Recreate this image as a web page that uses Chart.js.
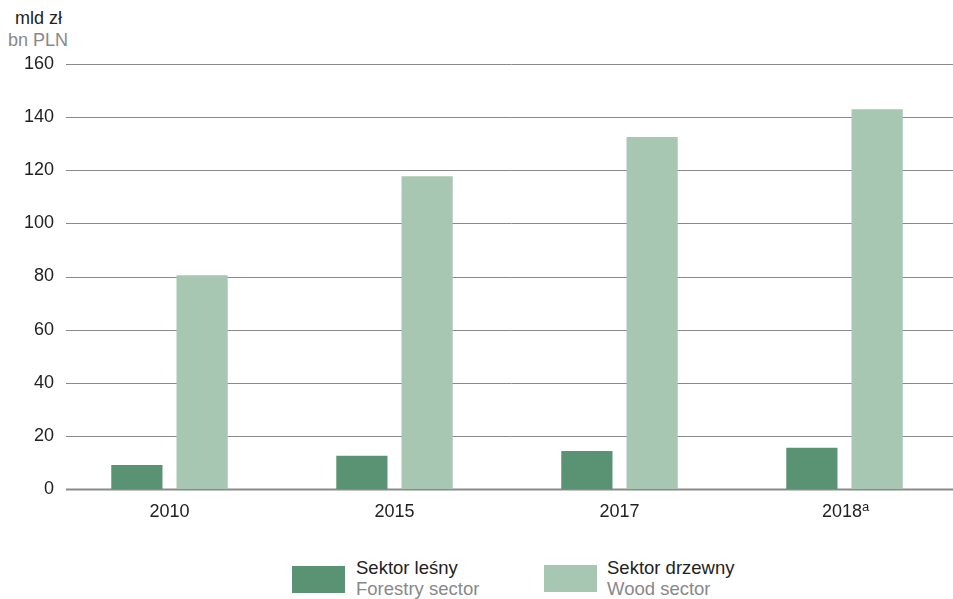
<!DOCTYPE html>
<html>
<head>
<meta charset="utf-8">
<script src="https://cdn.jsdelivr.net/npm/chart.js@4"></script>
<style>
  body { margin: 0; background: #fff; font-family: 'Liberation Sans', Arial, sans-serif; }
  #wrap { position: relative; width: 953px; height: 599px; overflow: hidden; }
  #box { position: absolute; left: 0; top: 0; width: 957px; height: 535px; }
  .unit { position: absolute; font-size: 18px; }
  .leg { position: absolute; top: 557px; font-size: 18.5px; line-height: 21px; }
  .sw { position: absolute; width: 53px; height: 27px; }
  .pl { color: #222; }
  .en { color: #888; }
</style>
</head>
<body>
<div id="wrap">
  <div class="unit" style="left:15px;top:8px;color:#222">mld zł</div>
  <div class="unit" style="left:8px;top:30px;color:#888">bn PLN</div>
  <div id="box"><canvas id="chart"></canvas></div>
  <div class="sw" style="left:292px;top:566px;background:#5a9373"></div>
  <div class="leg" style="left:356px"><div class="pl">Sektor leśny</div><div class="en">Forestry sector</div></div>
  <div class="sw" style="left:544px;top:565px;background:#a8c7b3"></div>
  <div class="leg" style="left:607px"><div class="pl">Sektor drzewny</div><div class="en">Wood sector</div></div>
</div>
<script>
// Data
const years = ['2010', '2015', '2017', '2018'];
const yearNotes = ['', '', '', 'a'];
const forestry = [9.0, 12.5, 14.3, 15.5];
const wood = [80.5, 117.7, 132.5, 143.0];
const yTicks = [0, 20, 40, 60, 80, 100, 120, 140, 160];

const FONT = "'Liberation Sans', Arial, sans-serif";
Chart.defaults.font.family = FONT;
Chart.defaults.font.size = 18;
Chart.defaults.color = '#222';

// gridlines start a bit right of the category axis start
const gridLines = {
    id: 'gridLines',
    beforeDatasetsDraw(chart) {
        const { ctx, chartArea, scales: { y } } = chart;
        ctx.save();
        yTicks.forEach(v => {
            const py = Math.round(y.getPixelForValue(v)) + 0.5;
            ctx.beginPath();
            ctx.strokeStyle = '#8a8a8a';
            ctx.lineWidth = v === 0 ? 2 : 1;
            ctx.moveTo(chartArea.left + 9, py);
            ctx.lineTo(chartArea.right, py);
            ctx.stroke();
        });
        ctx.restore();
    }
};

// superscript footnote marks on year labels (label gets a trailing space so year+mark is centred)
const footnotes = {
    id: 'footnotes',
    afterDraw(chart) {
        const { ctx, scales: { x } } = chart;
        ctx.save();
        yearNotes.forEach((n, i) => {
            if (!n) return;
            ctx.font = '18px ' + FONT;
            const w = ctx.measureText(years[i]).width;
            const full = ctx.measureText(years[i] + ' ').width;
            const px = x.getPixelForTick(i) - full / 2 + w;
            ctx.font = '13px ' + FONT;
            ctx.fillStyle = '#222';
            ctx.textBaseline = 'top';
            ctx.fillText(n, px, x.bottom - x.height + 12);
        });
        ctx.restore();
    }
};

new Chart(document.getElementById('chart'), {
    type: 'bar',
    data: {
        labels: years,
        datasets: [
            { label: 'Sektor leśny', data: forestry, backgroundColor: '#5a9373' },
            { label: 'Sektor drzewny', data: wood, backgroundColor: '#a8c7b3' }
        ]
    },
    options: {
        animation: false,
        responsive: true,
        maintainAspectRatio: false,
        categoryPercentage: 0.58,
        barPercentage: 0.785,
        layout: { padding: { top: 64, right: 0 } },
        plugins: { legend: { display: false }, tooltip: { enabled: false } },
        scales: {
            x: {
                grid: { display: false, drawTicks: false },
                border: { display: false },
                ticks: {
                    padding: 12, color: '#222',
                    callback: (v, i) => years[i] + (yearNotes[i] ? ' ' : '')
                },
                afterFit: s => { s.height = 46; }
            },
            y: {
                min: 0, max: 160,
                grid: { display: false, drawTicks: false },
                border: { display: false },
                ticks: { stepSize: 20, padding: 3, color: '#222' },
                afterFit: s => { s.width = 57; }
            }
        }
    },
    plugins: [gridLines, footnotes]
});
</script>
</body>
</html>
